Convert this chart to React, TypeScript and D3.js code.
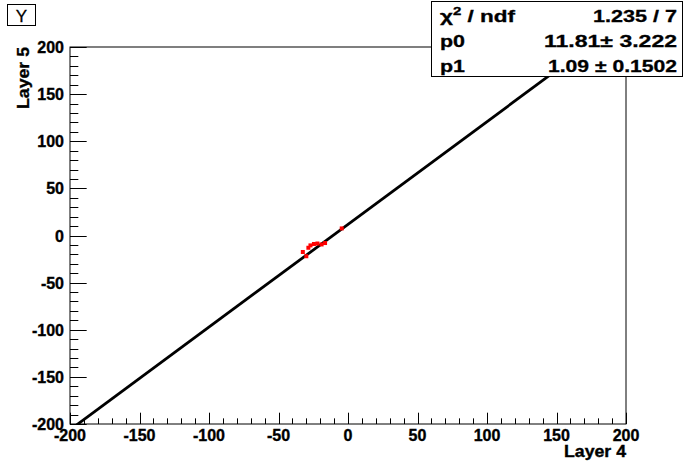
import * as d3 from "d3";

// fit result from the stats box
const fitP0 = 11.81;
const fitP1 = 1.09;

// measured points (Layer 4 vs Layer 5)
const layer4 = [-32.5, -30, -28.5, -27, -24.5, -22, -19, -16.5, -4.5];
const layer5 = [-17.5, -22, -13, -10.5, -9, -8.5, -9.5, -8, 7.5];

const xTicks = [-200, -150, -100, -50, 0, 50, 100, 150, 200];
const yTicks = [-200, -150, -100, -50, 0, 50, 100, 150, 200];

const statsRows = [
  { label: "χ2 / ndf", value: "1.235 / 7", labelLen: 75, valueLen: 84 },
  { label: "p0", value: "11.81± 3.222", labelLen: 25, valueLen: 133 },
  { label: "p1", value: "1.09 ± 0.1502", labelLen: 25, valueLen: 129 },
];

const width = 696;
const height = 472;
const marginLeft = 70;
const marginRight = 70;
const marginTop = 47;
const marginBottom = 48;

const font = "'Liberation Sans', Arial, Helvetica, sans-serif";

export default function App() {
  const x = d3.scaleLinear([-200, 200], [marginLeft, width - marginRight]);
  const y = d3.scaleLinear([-200, 200], [height - marginBottom, marginTop]);

  const xMinor = d3.range(-200, 201, 10);
  const yMinor = d3.range(-200, 201, 10);

  const fitLine = d3
    .line<number>()
    .x((d) => x(d))
    .y((d) => y(fitP0 + fitP1 * d));

  const x0 = x(-200);
  const x1 = x(200);
  const y0 = y(-200);
  const y1 = y(200);
  const yTickMajor = 0.03 * (x1 - x0);
  const xTickMajor = 0.03 * (y0 - y1);

  return (
    <svg
      width={width}
      height={height}
      style={{ position: "absolute", left: 0, top: 0, background: "white" }}
      fontFamily={font}
    >
      <defs>
        <clipPath id="frame">
          <rect x={x0} y={y1} width={x1 - x0} height={y0 - y1} />
        </clipPath>
      </defs>
      <rect width={width} height={height} fill="white" />

      {/* fit line */}
      <path
        d={fitLine([-200, 200]) ?? undefined}
        fill="none"
        stroke="black"
        strokeWidth={2.8}
        clipPath="url(#frame)"
      />

      {/* points */}
      <g fill="red">
        {layer4.map((d, i) => (
          <rect key={i} x={x(d) - 2} y={y(layer5[i]) - 2} width={4} height={4} />
        ))}
      </g>

      {/* frame */}
      <rect x={x0} y={y1} width={x1 - x0} height={y0 - y1} fill="none" stroke="black" strokeWidth={1} />

      {/* ticks */}
      <g stroke="black" strokeWidth={1}>
        {xMinor.map((t) => (
          <line
            key={t}
            x1={Math.round(x(t)) + 0.5}
            x2={Math.round(x(t)) + 0.5}
            y1={y0}
            y2={y0 - (t % 50 === 0 ? xTickMajor : xTickMajor / 2)}
          />
        ))}
        {yMinor.map((t) => (
          <line
            key={t}
            y1={Math.round(y(t)) + 0.5}
            y2={Math.round(y(t)) + 0.5}
            x1={x0}
            x2={x0 + (t % 50 === 0 ? yTickMajor : yTickMajor / 2)}
          />
        ))}
      </g>

      <g fontSize={16} fontWeight="bold" fill="black" stroke="black" strokeWidth={0.35}>
        {xTicks.map((t) => (
          <text key={t} x={x(t)} y={y0 + 17} textAnchor="middle">
            {t}
          </text>
        ))}
        {yTicks.map((t) => (
          <text key={t} x={x0 - 6} y={y(t) + 6} textAnchor="end">
            {t}
          </text>
        ))}
        <text x={x1} y={y0 + 33} textAnchor="end" textLength={62} lengthAdjust="spacingAndGlyphs">
          Layer 4
        </text>
        <text
          transform={`translate(29,${y1}) rotate(-90)`}
          textAnchor="end"
          textLength={62}
          lengthAdjust="spacingAndGlyphs"
        >
          Layer 5
        </text>
      </g>

      {/* title box */}
      <rect x={7.5} y={4.5} width={28} height={21} fill="white" stroke="black" />
      <text x={21.5} y={21.5} textAnchor="middle" fontSize={17} fill="black" stroke="black" strokeWidth={0.3}>
        Y
      </text>

      {/* stats box */}
      <rect x={431.5} y={1.5} width={251} height={75} fill="white" stroke="black" />
      <g fontSize={16.5} fontWeight="bold" fill="black" stroke="black" strokeWidth={0.3}>
        {statsRows.map((r, i) => (
          <g key={r.label}>
            <text x={440} y={22 + i * 25} textLength={r.labelLen} lengthAdjust="spacingAndGlyphs">
              {i === 0 ? (
                <>
                  χ<tspan dy={-7} fontSize={11}>2</tspan>
                  <tspan dy={7}> / ndf</tspan>
                </>
              ) : (
                r.label
              )}
            </text>
            <text
              x={677}
              y={22 + i * 25}
              textAnchor="end"
              textLength={r.valueLen}
              lengthAdjust="spacingAndGlyphs"
            >
              {r.value}
            </text>
          </g>
        ))}
      </g>
    </svg>
  );
}
